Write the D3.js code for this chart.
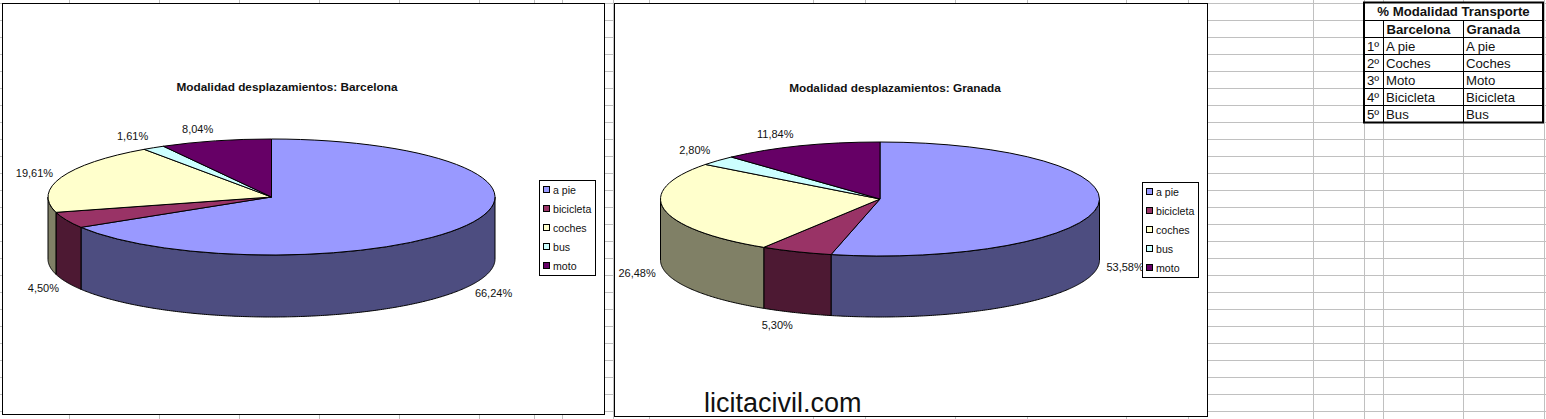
<!DOCTYPE html>
<html>
<head>
<meta charset="utf-8">
<title>Modalidad desplazamientos</title>
<script src="https://cdn.jsdelivr.net/npm/d3@7"></script>
<style>
html, body { margin: 0; padding: 0; background: #fff; }
svg { display: block; }
text { font-family: "Liberation Sans", Arial, sans-serif; fill: #111; }
</style>
</head>
<body>
<div id="chart"></div>
<script>
// values
const categories = ['a pie', 'bicicleta', 'coches', 'bus', 'moto'];
const barcelona = [66.24, 4.50, 19.61, 1.61, 8.04];
const granada = [53.58, 5.30, 26.48, 2.80, 11.84];

const tableTitle = '% Modalidad Transporte';
const tableHead = ['', 'Barcelona', 'Granada'];
const tableRank = ['1º', '2º', '3º', '4º', '5º'];
const tableBarcelona = ['A pie', 'Coches', 'Moto', 'Bicicleta', 'Bus'];
const tableGranada = ['A pie', 'Coches', 'Moto', 'Bicicleta', 'Bus'];

const topColors = ['#9999ff', '#993366', '#ffffcc', '#ccffff', '#660066'];
const sideColors = ['#4d4d80', '#4d1933', '#808066', '#668080', '#330033'];

const width = 1546, height = 419;

const svg = d3.select('#chart').append('svg')
    .attr('width', width)
    .attr('height', height);

// spreadsheet grid behind the charts
const gridColumns = [69, 159, 239, 319, 399, 479, 534, 562, 613, 649, 813, 865, 955, 1027, 1126, 1188, 1313, 1364, 1383, 1463, 1544];
const gridRows = d3.range(3, height, 17);

svg.append('g').selectAll('line').data(gridColumns).join('line')
    .attr('x1', d => d + .5).attr('x2', d => d + .5)
    .attr('y1', 0).attr('y2', height)
    .attr('stroke', '#c0c0c0');
svg.append('g').selectAll('line').data(gridRows).join('line')
    .attr('x1', 0).attr('x2', width)
    .attr('y1', d => d + .5).attr('y2', d => d + .5)
    .attr('stroke', '#c0c0c0');

function drawPie(opt) {
    let g = svg.append('g');

    g.append('rect')
        .attr('x', opt.frame[0] + .5).attr('y', opt.frame[1] + .5)
        .attr('width', opt.frame[2] - opt.frame[0])
        .attr('height', opt.frame[3] - opt.frame[1])
        .attr('fill', '#fff').attr('stroke', '#000');

    g.append('text')
        .attr('x', opt.titleX).attr('y', opt.titleY)
        .attr('text-anchor', 'middle')
        .attr('font-size', 11.8).attr('font-weight', 'bold')
        .text(opt.title);

    let pie = d3.pie().sort(null).value(d => d);
    let slices = pie(opt.values);

    // front wall, only the part of each slice that faces the viewer
    let sx = a => opt.cx + opt.rx * Math.sin(a);
    let sy = a => opt.cy - opt.ry * Math.cos(a);
    let area = d3.area()
        .x(a => sx(a))
        .y0(a => sy(a))
        .y1(a => sy(a) + opt.depth);

    slices.forEach((s, i) => {
        let a0 = Math.max(s.startAngle, Math.PI / 2);
        let a1 = Math.min(s.endAngle, Math.PI * 3 / 2);
        if (a1 <= a0) return;
        let pts = d3.range(a0, a1, .01).concat([a1]);
        g.append('path')
            .attr('d', area(pts))
            .attr('fill', sideColors[i])
            .attr('stroke', '#000');
    });

    // top face
    let arc = d3.arc().innerRadius(0).outerRadius(opt.rx);
    g.append('g')
        .attr('transform', `translate(${opt.cx},${opt.cy}) scale(1,${opt.ry / opt.rx})`)
        .selectAll('path').data(slices).join('path')
        .attr('d', arc)
        .attr('fill', (d, i) => topColors[i])
        .attr('stroke', '#000')
        .attr('vector-effect', 'non-scaling-stroke');

    // value labels sit next to the rim, nudged like the original
    g.append('g').selectAll('text').data(slices).join('text')
        .attr('x', (d, i) => sx((d.startAngle + d.endAngle) / 2) + opt.labelNudge[i][0])
        .attr('y', (d, i) => {
            let a = (d.startAngle + d.endAngle) / 2;
            let front = a > Math.PI / 2 && a < Math.PI * 3 / 2;
            return sy(a) + (front ? opt.depth : 0) + opt.labelNudge[i][1];
        })
        .attr('dy', '.35em')
        .attr('text-anchor', 'middle')
        .attr('font-size', 11)
        .text(d => d.value.toFixed(2).replace('.', ',') + '%');

    // legend
    let lg = opt.legend;
    g.append('rect')
        .attr('x', lg[0] + .5).attr('y', lg[1] + .5)
        .attr('width', lg[2] - lg[0]).attr('height', lg[3] - lg[1])
        .attr('fill', '#fff').attr('stroke', '#000');

    let rowY = d3.scalePoint().domain(categories).range([lg[1] + 10, lg[1] + 86]);
    let row = g.append('g').selectAll('g').data(categories).join('g')
        .attr('transform', d => `translate(${lg[0]},${rowY(d)})`);
    row.append('rect')
        .attr('x', 4.5).attr('y', -3.5)
        .attr('width', 6).attr('height', 6)
        .attr('fill', (d, i) => topColors[i])
        .attr('stroke', '#000');
    row.append('text')
        .attr('x', 14).attr('dy', '.35em')
        .attr('font-size', 10.6)
        .text(d => d);
}

drawPie({
    title: 'Modalidad desplazamientos: Barcelona',
    values: barcelona,
    frame: [2, 3, 604, 414],
    titleX: 287, titleY: 91,
    cx: 271.5, cy: 197, rx: 223.5, ry: 58, depth: 62,
    legend: [539, 180, 595, 275],
    labelNudge: [[27, 6], [-23, 6], [-27, -4], [-21, -12], [-18, -12]]
});

drawPie({
    title: 'Modalidad desplazamientos: Granada',
    values: granada,
    frame: [614, 3, 1207, 416],
    titleX: 895, titleY: 92,
    cx: 880, cy: 199, rx: 219.5, ry: 57, depth: 61,
    legend: [1142, 182, 1198, 277],
    labelNudge: [[27, 1], [-19, 12], [-27, 3], [-23, -10], [-25, -12]]
});

svg.append('text')
    .attr('x', 704).attr('y', 412)
    .attr('font-size', 27)
    .text('licitacivil.com');

// small table top right
const colX = [1364, 1383, 1463, 1543];
const rowTop = d3.scaleLinear().domain([0, 7]).range([3, 122]);
const table = svg.append('g');

table.append('rect')
    .attr('x', colX[0]).attr('y', rowTop(0))
    .attr('width', colX[3] - colX[0]).attr('height', rowTop(7) - rowTop(0))
    .attr('fill', '#fff');

table.selectAll('line.h').data(d3.range(1, 7)).join('line')
    .attr('class', 'h')
    .attr('x1', colX[0]).attr('x2', colX[3])
    .attr('y1', d => rowTop(d) + .5).attr('y2', d => rowTop(d) + .5)
    .attr('stroke', '#000');
table.selectAll('line.v').data([1, 2]).join('line')
    .attr('class', 'v')
    .attr('x1', d => colX[d] + .5).attr('x2', d => colX[d] + .5)
    .attr('y1', rowTop(1)).attr('y2', rowTop(7))
    .attr('stroke', '#000');
table.append('rect')
    .attr('x', colX[0]).attr('y', rowTop(0) - .5)
    .attr('width', colX[3] - colX[0]).attr('height', rowTop(7) - rowTop(0) + 1)
    .attr('fill', 'none').attr('stroke', '#000').attr('stroke-width', 2);

table.append('text')
    .attr('x', (colX[0] + colX[3]) / 2).attr('y', rowTop(1) - 4)
    .attr('text-anchor', 'middle')
    .attr('font-size', 13.2).attr('font-weight', 'bold')
    .text(tableTitle);

tableHead.forEach((t, i) => {
    table.append('text')
        .attr('x', colX[i] + 3.5).attr('y', rowTop(2) - 3.5)
        .attr('font-size', 13.2).attr('font-weight', 'bold')
        .text(t);
});

[tableRank, tableBarcelona, tableGranada].forEach((col, i) => {
    table.append('g').selectAll('text').data(col).join('text')
        .attr('x', colX[i] + 3)
        .attr('y', (d, r) => rowTop(r + 3) - 3.5)
        .attr('font-size', 13.2)
        .text(d => d);
});
</script>
</body>
</html>
